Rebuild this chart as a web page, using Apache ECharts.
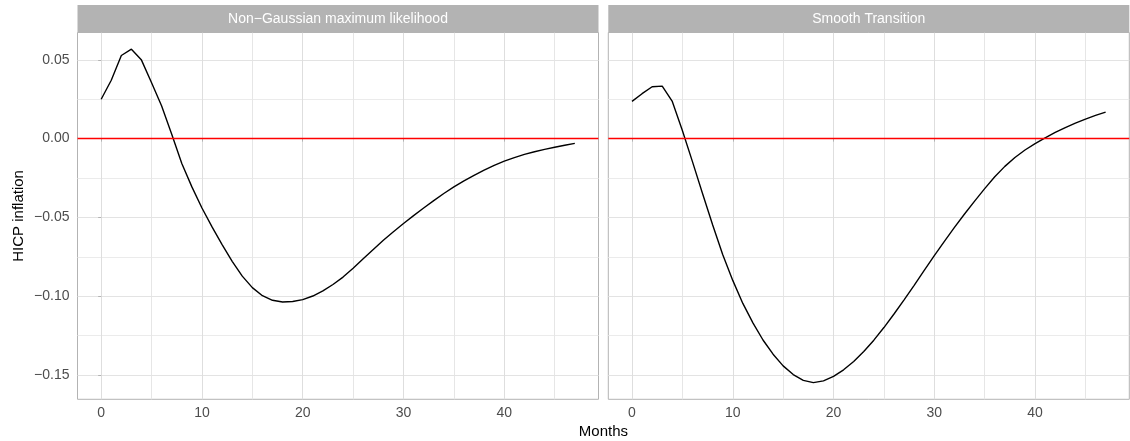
<!DOCTYPE html>
<html>
<head>
<meta charset="utf-8">
<script src="https://cdn.jsdelivr.net/npm/echarts@6/dist/echarts.min.js"></script>
<style>
  html, body { margin: 0; padding: 0; background: #ffffff; }
  #chart { width: 1130px; height: 441px; }
</style>
</head>
<body>
<div id="chart"></div>
<script>
// Impulse response of HICP inflation, by horizon in months
const months = [0, 1, 2, 3, 4, 5, 6, 7, 8, 9, 10, 11, 12, 13, 14, 15, 16, 17, 18, 19, 20, 21, 22, 23,
                24, 25, 26, 27, 28, 29, 30, 31, 32, 33, 34, 35, 36, 37, 38, 39, 40, 41, 42, 43, 44, 45, 46, 47];

const nonGaussianML = [
   0.0250,  0.0370,  0.0527,  0.0567,  0.0498,  0.0354,  0.0207,  0.0028,
  -0.0158, -0.0306, -0.0440, -0.0560, -0.0672, -0.0778, -0.0872, -0.0945,
  -0.0996, -0.1025, -0.1036, -0.1033, -0.1021, -0.0998, -0.0966, -0.0925,
  -0.0878, -0.0822, -0.0762, -0.0703, -0.0645, -0.0590, -0.0538, -0.0488,
  -0.0440, -0.0393, -0.0348, -0.0306, -0.0268, -0.0233, -0.0200, -0.0170,
  -0.0143, -0.0120, -0.0100, -0.0083, -0.0068, -0.0055, -0.0042, -0.0030
];

const smoothTransition = [
   0.0236,  0.0285,  0.0329,  0.0333,  0.0236,  0.0052, -0.0146, -0.0348,
  -0.0546, -0.0735, -0.0899, -0.1045, -0.1168, -0.1277, -0.1367, -0.1441,
  -0.1496, -0.1533, -0.1547, -0.1536, -0.1508, -0.1466, -0.1413, -0.1350,
  -0.1278, -0.1198, -0.1112, -0.1022, -0.0930, -0.0836, -0.0742, -0.0651,
  -0.0563, -0.0478, -0.0396, -0.0317, -0.0242, -0.0176, -0.0120, -0.0072,
  -0.0032,  0.0005,  0.0039,  0.0070,  0.0098,  0.0124,  0.0147,  0.0168
];

const panelTitles = ['Non\u2212Gaussian maximum likelihood', 'Smooth Transition'];
const panelSeries = [nonGaussianML, smoothTransition];

const xMajorTicks = [0, 10, 20, 30, 40];
const xMinorTicks = [5, 15, 25, 35, 45];
const yMajorTicks = [-0.15, -0.10, -0.05, 0.00, 0.05];
const yMinorTicks = [-0.125, -0.075, -0.025, 0.025];

const referenceLevel = 0;
const xTitle = 'Months';
const yTitle = 'HICP inflation';

// ---- layout / styling ----
const FONT = '"Liberation Sans", Arial, Helvetica, sans-serif';
const panels = [
  { left: 77.5, width: 521 },
  { left: 608.3, width: 521 }
];
const panelTop = 32.5;
const panelHeight = 366.8;
const stripTop = 5;
const X_MIN = -2.35, X_MAX = 49.35;
const Y_MIN = -0.1653, Y_MAX = 0.0673;

const fmtY = v => (v < 0 ? '\u2212' : '') + Math.abs(v).toFixed(2);

const grids = [], xAxes = [], yAxes = [], series = [], graphics = [];

panels.forEach((p, i) => {
  grids.push({
    left: p.left, top: panelTop, width: p.width, height: panelHeight,
    show: true, backgroundColor: '#ffffff', borderColor: '#B3B3B3', borderWidth: 1
  });

  // major x axis with labels
  xAxes.push({
    type: 'value', gridIndex: i, min: X_MIN, max: X_MAX,
    axisLine: { show: false },
    axisTick: { show: true, length: 3, lineStyle: { color: '#B3B3B3', width: 1 }, customValues: xMajorTicks },
    axisLabel: { show: true, customValues: xMajorTicks, color: '#4D4D4D', fontSize: 14, fontFamily: FONT, margin: 7 },
    splitLine: { show: true, lineStyle: { color: '#DEDEDE', width: 1 } },
    z: 1
  });
  // minor x grid
  xAxes.push({
    type: 'value', gridIndex: i, min: X_MIN, max: X_MAX,
    axisLine: { show: false },
    axisTick: { show: false, customValues: xMinorTicks },
    axisLabel: { show: false, customValues: xMinorTicks },
    splitLine: { show: true, lineStyle: { color: '#E6E6E6', width: 1 } },
    z: 0
  });

  // major y axis (labels on first panel only)
  yAxes.push({
    type: 'value', gridIndex: i, min: Y_MIN, max: Y_MAX,
    axisLine: { show: false },
    axisTick: { show: i === 0, length: 3, lineStyle: { color: '#B3B3B3', width: 1 }, customValues: yMajorTicks },
    axisLabel: { show: i === 0, customValues: yMajorTicks, formatter: fmtY, color: '#4D4D4D', fontSize: 14, fontFamily: FONT, margin: 8 },
    splitLine: { show: true, lineStyle: { color: '#E3E3E3', width: 1.2 } },
    z: 1
  });
  // minor y grid
  yAxes.push({
    type: 'value', gridIndex: i, min: Y_MIN, max: Y_MAX,
    axisLine: { show: false },
    axisTick: { show: false, customValues: yMinorTicks },
    axisLabel: { show: false, customValues: yMinorTicks },
    splitLine: { show: true, lineStyle: { color: '#EBEBEB', width: 1.2 } },
    z: 0
  });

  series.push({
    type: 'line',
    xAxisIndex: 2 * i, yAxisIndex: 2 * i,
    data: months.map((m, k) => [m, panelSeries[i][k]]),
    showSymbol: false,
    lineStyle: { color: '#000000', width: 1.4 },
    z: 3,
    markLine: {
      silent: true, symbol: 'none', label: { show: false },
      lineStyle: { color: '#FF0000', width: 1.4, type: 'solid' },
      data: [{ yAxis: referenceLevel }],
      z: 4
    }
  });

  // facet strip
  graphics.push({
    type: 'rect', silent: true,
    shape: { x: p.left, y: stripTop, width: p.width, height: panelTop - stripTop },
    style: { fill: '#B3B3B3' }, z: 10
  });
  graphics.push({
    type: 'text', silent: true,
    x: p.left + p.width / 2, y: (stripTop + panelTop) / 2 + 0.5,
    style: { text: panelTitles[i], fill: '#FFFFFF', font: '14px ' + FONT, textAlign: 'center', textVerticalAlign: 'middle' },
    z: 11
  });
});

// axis titles
graphics.push({
  type: 'text', silent: true,
  x: (panels[0].left + panels[1].left + panels[1].width) / 2, y: 432,
  style: { text: xTitle, fill: '#000000', font: '15px ' + FONT, textAlign: 'center', textVerticalAlign: 'middle' }
});
graphics.push({
  type: 'text', silent: true,
  x: 19, y: panelTop + panelHeight / 2, rotation: Math.PI / 2,
  style: { text: yTitle, fill: '#000000', font: '15px ' + FONT, textAlign: 'center', textVerticalAlign: 'middle' }
});

const chart = echarts.init(document.getElementById('chart'), null, { renderer: 'canvas' });
chart.setOption({
  animation: false,
  backgroundColor: '#ffffff',
  grid: grids,
  xAxis: xAxes,
  yAxis: yAxes,
  series: series,
  graphic: graphics
});
</script>
</body>
</html>
